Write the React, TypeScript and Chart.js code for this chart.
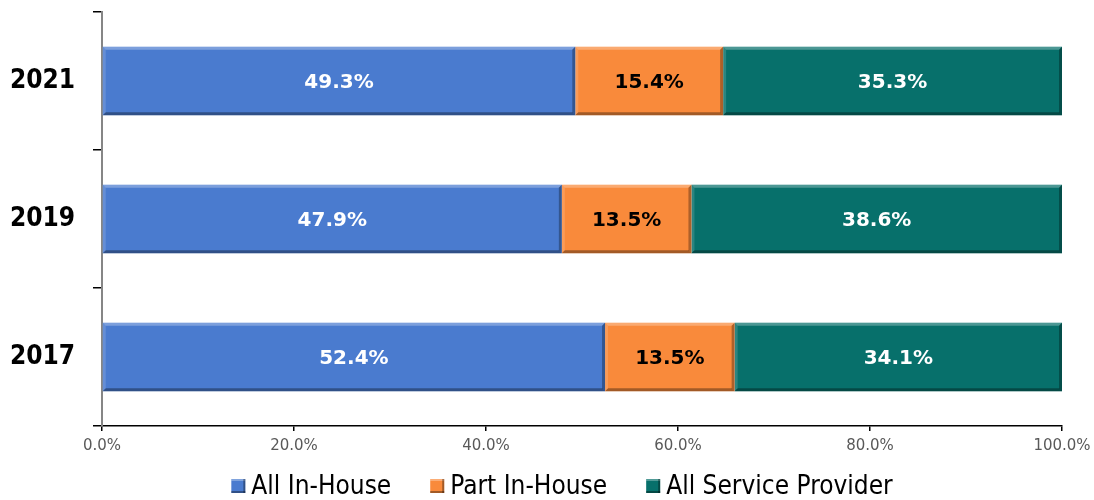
import React, { useEffect, useRef } from "react";
import { Chart, registerables } from "chart.js";

Chart.register(...registerables);

const years = ["2021", "2019", "2017"];
const seriesNames = ["All In-House", "Part In-House", "All Service Provider"];
const allInHouse = [49.3, 47.9, 52.4];
const partInHouse = [15.4, 13.5, 13.5];
const allServiceProvider = [35.3, 38.6, 34.1];
const xTicks = [0, 20, 40, 60, 80, 100];

const fills = ["#4a7bcf", "#f98a3b", "#07706b"];
const labelColors = ["#ffffff", "#000000", "#ffffff"];

const bevelPlugin = {
  id: "bevel",
  afterDatasetsDraw(chart: any) {
    const ctx = chart.ctx;
    chart.data.datasets.forEach((ds: any, di: number) => {
      const meta = chart.getDatasetMeta(di);
      meta.data.forEach((el: any, i: number) => {
        const left = Math.min(el.x, el.base);
        const right = Math.max(el.x, el.base);
        const top = el.y - el.height / 2;
        const bottom = el.y + el.height / 2;
        const b = 3;
        ctx.save();
        ctx.fillStyle = "rgba(255,255,255,0.28)";
        ctx.beginPath();
        ctx.moveTo(left, top);
        ctx.lineTo(right, top);
        ctx.lineTo(right - b, top + b);
        ctx.lineTo(left + b, top + b);
        ctx.closePath();
        ctx.fill();
        ctx.fillStyle = "rgba(255,255,255,0.15)";
        ctx.beginPath();
        ctx.moveTo(left, top);
        ctx.lineTo(left + b, top + b);
        ctx.lineTo(left + b, bottom - b);
        ctx.lineTo(left, bottom);
        ctx.closePath();
        ctx.fill();
        ctx.fillStyle = "rgba(0,0,0,0.35)";
        ctx.beginPath();
        ctx.moveTo(left, bottom);
        ctx.lineTo(right, bottom);
        ctx.lineTo(right - b, bottom - b);
        ctx.lineTo(left + b, bottom - b);
        ctx.closePath();
        ctx.fill();
        ctx.fillStyle = "rgba(0,0,0,0.3)";
        ctx.beginPath();
        ctx.moveTo(right, top);
        ctx.lineTo(right, bottom);
        ctx.lineTo(right - b, bottom - b);
        ctx.lineTo(right - b, top + b);
        ctx.closePath();
        ctx.fill();
        const v = ds.data[i];
        ctx.fillStyle = labelColors[di];
        ctx.font = "bold 20px 'DejaVu Sans'";
        ctx.textAlign = "center";
        ctx.textBaseline = "middle";
        ctx.fillText(v.toFixed(1) + "%", (left + right) / 2, el.y + 2);
        ctx.restore();
      });
    });
  },
};

const legendPlugin = {
  id: "customLegend",
  afterDraw(chart: any) {
    const ctx = chart.ctx;
    ctx.save();
    ctx.font = "26px 'DejaVu Sans Condensed', 'DejaVu Sans'";
    const box = 14;
    const gap = 6;
    const itemGap = 39;
    const widths = seriesNames.map((n) => ctx.measureText(n).width);
    const total =
      widths.reduce((a, w) => a + w + box + gap, 0) + itemGap * (seriesNames.length - 1);
    let x = 562 - total / 2;
    const cy = 486;
    seriesNames.forEach((n, i) => {
      const bx = x;
      const by = cy - box / 2;
      ctx.fillStyle = fills[i];
      ctx.fillRect(bx, by, box, box);
      ctx.fillStyle = "rgba(255,255,255,0.3)";
      ctx.fillRect(bx, by, box, 2);
      ctx.fillStyle = "rgba(0,0,0,0.35)";
      ctx.fillRect(bx, by + box - 2, box, 2);
      ctx.fillRect(bx + box - 2, by, 2, box);
      ctx.fillStyle = "#000000";
      ctx.textAlign = "left";
      ctx.textBaseline = "middle";
      ctx.fillText(n, bx + box + gap, cy + 1);
      x += box + gap + widths[i] + itemGap;
    });
    ctx.restore();
  },
};

export default function App() {
  const ref = useRef<HTMLCanvasElement>(null);
  useEffect(() => {
    if (!ref.current) return;
    const seriesData = [allInHouse, partInHouse, allServiceProvider];
    const chart = new Chart(ref.current, {
      type: "bar",
      data: {
        labels: years,
        datasets: seriesNames.map((name, i) => ({
          label: name,
          data: seriesData[i],
          backgroundColor: fills[i],
          borderWidth: 0,
          categoryPercentage: 1,
          barPercentage: 0.495,
        })),
      },
      options: {
        indexAxis: "y",
        responsive: true,
        maintainAspectRatio: false,
        animation: false,
        layout: { padding: { top: 12, right: 32, left: 0, bottom: 0 } },
        plugins: {
          legend: { display: false },
          tooltip: { enabled: false },
        },
        scales: {
          x: {
            stacked: true,
            min: 0,
            max: 100,
            afterBuildTicks: (scale: any) => {
              scale.ticks = xTicks.map((v) => ({ value: v }));
            },
            afterFit: (scale: any) => {
              scale.height = 74;
              scale.paddingLeft = 0;
              scale.paddingRight = 0;
            },
            ticks: {
              callback: (v: any) => Number(v).toFixed(1) + "%",
              color: "#595959",
              font: { family: "'DejaVu Sans'", size: 15 },
              padding: 6,
              maxRotation: 0,
            },
            grid: {
              drawOnChartArea: false,
              drawTicks: true,
              tickLength: 5,
              color: "#000000",
              lineWidth: 1.5,
            },
            border: { display: true, color: "#000000", width: 1.5 },
          },
          y: {
            stacked: true,
            afterFit: (scale: any) => {
              scale.width = 102;
              scale.paddingTop = 0;
              scale.paddingBottom = 0;
            },
            ticks: {
              color: "#000000",
              font: { family: "'DejaVu Sans Condensed', 'DejaVu Sans'", size: 26, weight: "bold" },
              padding: 18,
            },
            grid: {
              offset: true,
              drawOnChartArea: false,
              drawTicks: true,
              tickLength: 9,
              color: "#000000",
              lineWidth: 1.5,
            },
            border: { display: true, color: "#868686", width: 2 },
          },
        },
      },
      plugins: [bevelPlugin, legendPlugin],
    } as any);
    return () => chart.destroy();
  }, []);
  return (
    <div style={{ position: "absolute", left: 0, top: 0, width: 1094, height: 500 }}>
      <canvas ref={ref} />
    </div>
  );
}
